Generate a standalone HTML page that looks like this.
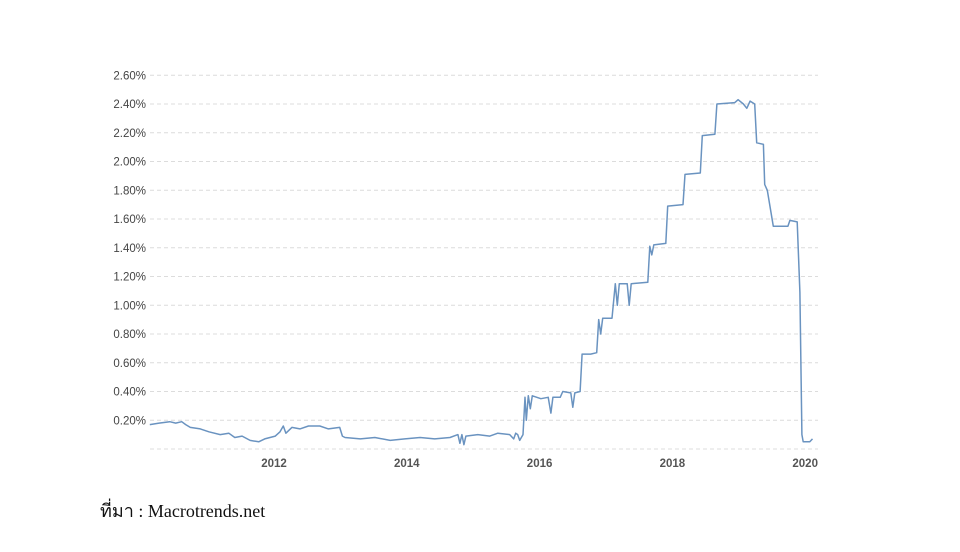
<!DOCTYPE html>
<html><head><meta charset="utf-8"><style>
html,body{margin:0;padding:0;background:#fff;width:960px;height:552px;overflow:hidden}
svg{display:block}
</style></head><body>
<svg id="chart" width="960" height="552" xmlns="http://www.w3.org/2000/svg">
<g id="grid"></g>
<g id="yaxis"></g>
<g id="xaxis"></g>
<path id="line" fill="none" stroke="#6a93c0" stroke-width="1.5" stroke-linejoin="round"/>
<text x="100" y="517" font-family="'Liberation Serif','Noto Serif CJK SC',serif" font-size="18" fill="#111">ที่มา : Macrotrends.net</text>
</svg>
<script>
const yTicks=[0.2,0.4,0.6,0.8,1.0,1.2,1.4,1.6,1.8,2.0,2.2,2.4,2.6];
const xTicks=[2012,2014,2016,2018,2020];
const years=[2010.16,2010.30,2010.46,2010.55,2010.64,2010.70,2010.77,2010.92,2011.05,2011.22,2011.35,2011.44,2011.55,2011.67,2011.80,2011.89,2012.05,2012.12,2012.17,2012.21,2012.30,2012.42,2012.55,2012.72,2012.85,2013.02,2013.06,2013.10,2013.33,2013.55,2013.78,2014.00,2014.23,2014.45,2014.68,2014.80,2014.83,2014.86,2014.89,2014.92,2015.10,2015.28,2015.40,2015.58,2015.64,2015.67,2015.70,2015.73,2015.78,2015.81,2015.83,2015.86,2015.89,2015.92,2016.05,2016.16,2016.20,2016.23,2016.34,2016.38,2016.50,2016.53,2016.56,2016.64,2016.67,2016.80,2016.89,2016.92,2016.95,2016.98,2017.12,2017.17,2017.20,2017.23,2017.35,2017.38,2017.41,2017.66,2017.69,2017.72,2017.75,2017.93,2017.96,2018.19,2018.22,2018.45,2018.48,2018.67,2018.70,2018.97,2019.02,2019.10,2019.15,2019.20,2019.27,2019.30,2019.40,2019.42,2019.46,2019.55,2019.77,2019.80,2019.91,2019.95,2019.98,2020.00,2020.10,2020.14];
const rates=[0.17,0.18,0.19,0.18,0.19,0.17,0.15,0.14,0.12,0.10,0.11,0.08,0.09,0.06,0.05,0.07,0.09,0.12,0.16,0.11,0.15,0.14,0.16,0.16,0.14,0.15,0.09,0.08,0.07,0.08,0.06,0.07,0.08,0.07,0.08,0.10,0.04,0.10,0.03,0.09,0.10,0.09,0.11,0.10,0.07,0.11,0.10,0.06,0.10,0.36,0.20,0.37,0.28,0.37,0.35,0.36,0.25,0.36,0.36,0.40,0.39,0.29,0.39,0.40,0.66,0.66,0.67,0.90,0.80,0.91,0.91,1.15,1.00,1.15,1.15,1.00,1.15,1.16,1.41,1.35,1.42,1.43,1.69,1.70,1.91,1.92,2.18,2.19,2.40,2.41,2.43,2.40,2.37,2.42,2.40,2.13,2.12,1.84,1.80,1.55,1.55,1.59,1.58,1.09,0.10,0.05,0.05,0.07];
const NS='http://www.w3.org/2000/svg';
const x=yr=>272+(yr-2012)*66.4;
const y=v=>449-v*143.75;
const grid=document.getElementById('grid'),ya=document.getElementById('yaxis'),xa=document.getElementById('xaxis');
[0].concat(yTicks).forEach(v=>{
  const l=document.createElementNS(NS,'line');
  
  
  l.setAttribute('x1',150);l.setAttribute('x2',818);l.setAttribute('y1',y(v));l.setAttribute('y2',y(v));
  l.setAttribute('stroke','#dcdcdc');l.setAttribute('stroke-dasharray','4,3');
  grid.appendChild(l);
});
yTicks.forEach(v=>{
  const t=document.createElementNS(NS,'text');
  
  
  t.setAttribute('x',146);t.setAttribute('y',y(v)+4);t.setAttribute('text-anchor','end');
  t.setAttribute('font-family','Liberation Sans, sans-serif');t.setAttribute('font-size','11.5');t.setAttribute('fill','#444');
  t.textContent=v.toFixed(2)+'%';ya.appendChild(t);
});
xTicks.forEach(v=>{
  const t=document.createElementNS(NS,'text');
  
  
  t.setAttribute('x',x(v)+2);t.setAttribute('y',467);t.setAttribute('text-anchor','middle');
  t.setAttribute('font-family','Liberation Sans, sans-serif');t.setAttribute('font-size','11.5');t.setAttribute('font-weight','bold');t.setAttribute('fill','#555');
  t.textContent=v;xa.appendChild(t);
});
document.getElementById('line').setAttribute('d',years.map((yr,i)=>(i?'L':'M')+x(yr).toFixed(1)+','+y(rates[i]).toFixed(1)).join(''));
</script>
</body></html>
